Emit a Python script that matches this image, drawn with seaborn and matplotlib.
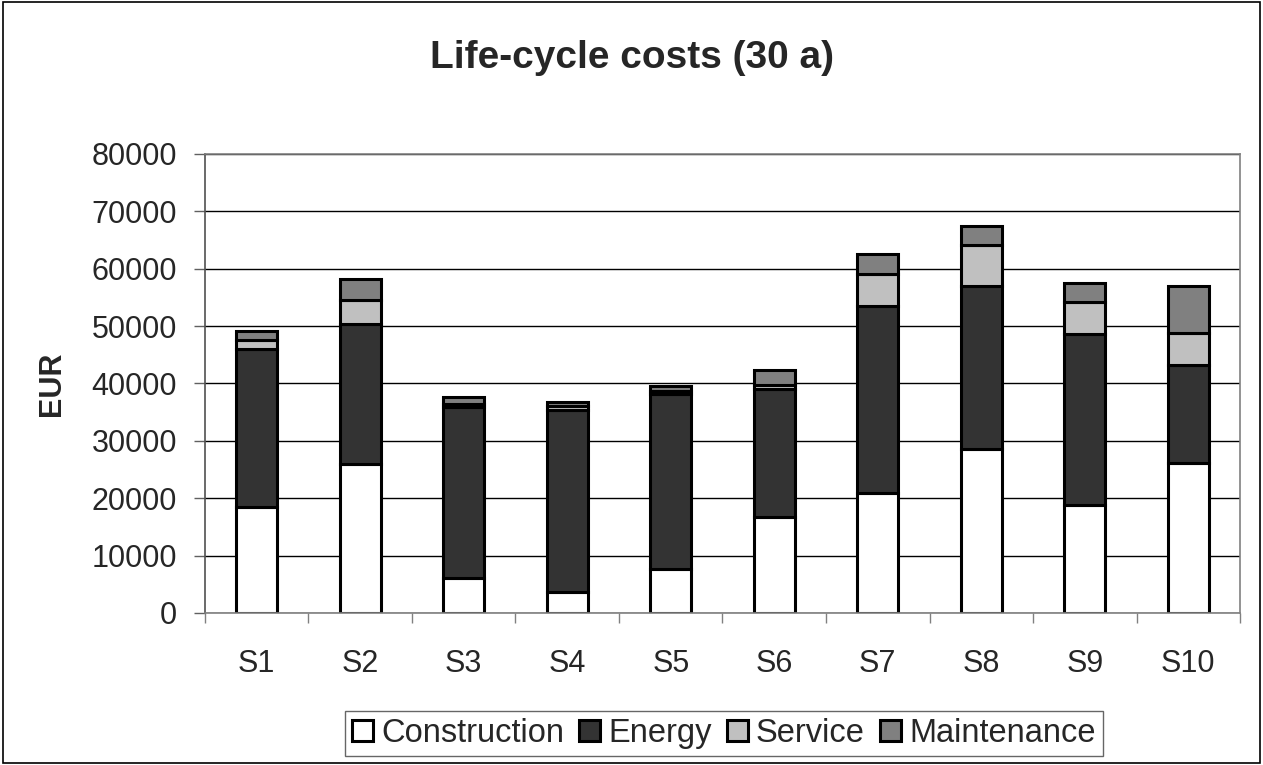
import numpy as np
import pandas as pd
from matplotlib import pyplot as plt
from matplotlib.patches import Rectangle
import seaborn as sns

# dati (EUR, 30 anni)
scenari = ["S1", "S2", "S3", "S4", "S5", "S6", "S7", "S8", "S9", "S10"]
construction = [18400, 26000, 6100, 3650, 7750, 16700, 20900, 28600, 18900, 26100]
energy = [27600, 24350, 29800, 31750, 30350, 22400, 32600, 28400, 29750, 17100]
service = [1500, 4250, 600, 700, 600, 700, 5500, 7150, 5550, 5630]
maintenance = [1700, 3650, 1200, 700, 800, 2500, 3500, 3300, 3400, 8170]

componenti = ["Construction", "Energy", "Service", "Maintenance"]
colori = ["#ffffff", "#333333", "#c0c0c0", "#808080"]

df = pd.DataFrame({"scenario": scenari, "Construction": construction,
                   "Energy": energy, "Service": service, "Maintenance": maintenance})

sns.set_style("white")
plt.rcParams["font.family"] = ["Liberation Sans", "DejaVu Sans"]

fig = plt.figure(figsize=(12.63, 7.65), dpi=100)
ax = fig.add_axes([0.1623, 0.1987, 0.8195, 0.6])

# barre impilate
base = np.zeros(len(scenari))
for comp, col in zip(componenti, colori):
    sns.barplot(data=df, x="scenario", y=comp, bottom=base, color=col,
                width=0.4, edgecolor="black", linewidth=2.2, ax=ax,
                label=comp, saturation=1, legend=False)
    base = base + df[comp].values

ax.set_ylim(0, 80000)
ax.set_yticks(range(0, 80001, 10000))
ax.set_xlim(-0.5, len(scenari) - 0.5)
ax.yaxis.grid(True, color="black", linewidth=1)
ax.set_axisbelow(True)
ax.set_xlabel("")
ax.set_ylabel("EUR", fontsize=22, fontweight="bold", labelpad=18)

# tacche tra le categorie
ax.set_xticks(np.arange(-0.5, len(scenari)), minor=True)
ax.tick_params(axis="x", which="minor", length=7, width=1, color="#808080", direction="out", bottom=True)
ax.tick_params(axis="x", which="major", length=0, pad=26, labelsize=22)
ax.tick_params(axis="y", length=8, width=1, color="#606060", direction="out", left=True, labelsize=22, pad=12)

for s in ax.spines.values():
    s.set_color("#808080")
    s.set_linewidth(1.2)
ax.spines["left"].set_color("#505050")

fig.suptitle("Life-cycle costs (30 a)", x=0.5, y=0.948, fontsize=28, fontweight="bold")

handles, labels = ax.get_legend_handles_labels()
leg = fig.legend(handles[:4], labels[:4], loc="center", bbox_to_anchor=(0.573, 0.0412), ncol=4,
                 fontsize=23.5, frameon=True, fancybox=False, edgecolor="#404040",
                 handlelength=0.65, handleheight=0.65, handletextpad=0.25, columnspacing=0.45,
                 borderpad=0.22, borderaxespad=0)
leg.get_frame().set_linewidth(1)

# bordo dell'area del grafico
fig.patches.append(Rectangle((0.002, 0.003), 0.996, 0.994, transform=fig.transFigure,
                             fill=False, edgecolor="black", linewidth=1.2))

plt.savefig("out.png", dpi=100)
